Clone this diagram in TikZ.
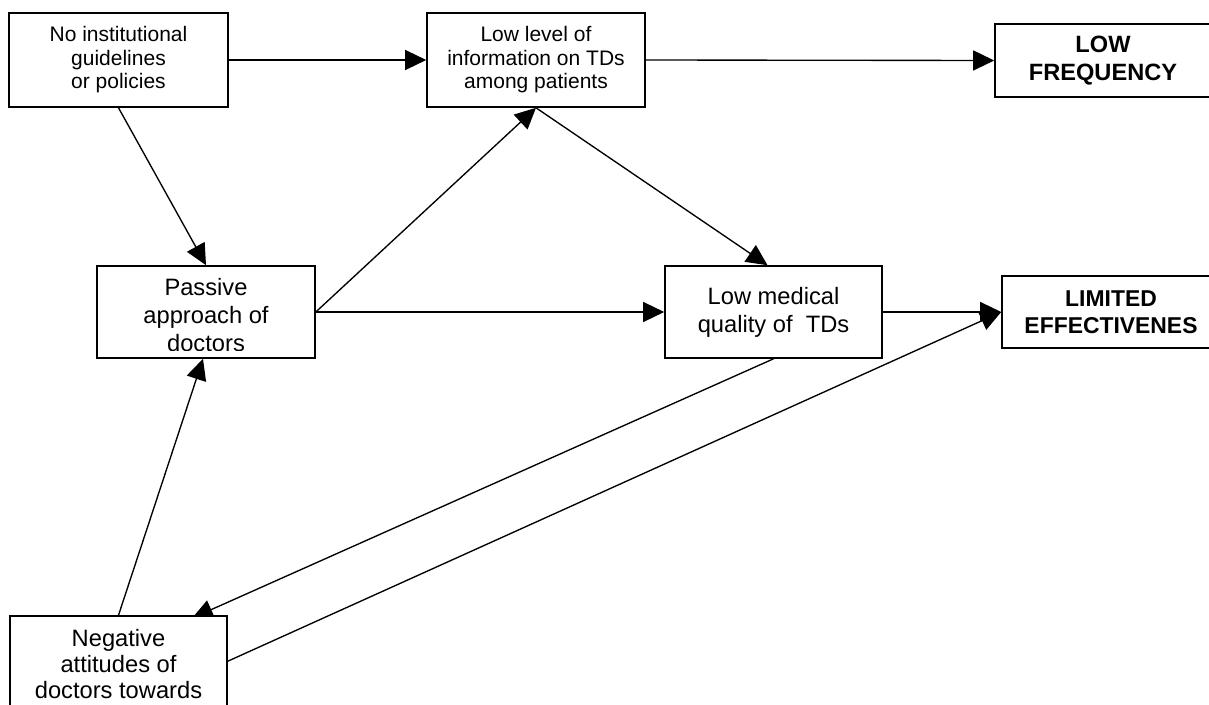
\documentclass[tikz,border=0pt]{standalone}
\usepackage{fontspec}
\setmainfont{Liberation Sans}
\usetikzlibrary{arrows.meta}
\pgfdeclarelayer{bg}
\pgfsetlayers{bg,main}
\begin{document}
\begin{tikzpicture}[x=1pt,y=-1pt,
  box/.style={draw,fill=white,line width=1.6pt,inner sep=0pt,align=center},
  smalltxt/.style={font=\fontsize{21pt}{23.5pt}\selectfont},
  bigtxt/.style={font=\fontsize{23.7pt}{28pt}\selectfont},
  negtxt/.style={font=\fontsize{23.7pt}{26pt}\selectfont},
  boldtxt/.style={font=\fontsize{23.6pt}{28pt}\selectfont\bfseries},
  boldtxtb/.style={font=\fontsize{22.9pt}{27pt}\selectfont\bfseries},
  conn/.style={line width=1.35pt,-{Triangle[length=21pt,width=20pt]}}]
\useasboundingbox (0,0) rectangle (1209,704);

\node[box,smalltxt,minimum width=219pt,minimum height=94pt] (nig) at (118.5,60)
  {No institutional\\guidelines\\or policies};
\node[box,smalltxt,minimum width=218pt,minimum height=94pt] (low) at (536,60)
  {Low level of\\information on TDs\\among patients};
\node[box,boldtxt,minimum width=216pt,minimum height=73pt] (lf) at (1103,60.5)
  {LOW\\FREQUENCY};

\node[box,minimum width=218pt,minimum height=92pt] (pas) at (206,312) {};
\begin{scope}
  \clip (97,266) rectangle (315,350);
  \node[bigtxt,align=center] (pastext) at (206,315.5) {Passive\\approach of\\doctors};
\end{scope}

\node[box,bigtxt,minimum width=217pt,minimum height=92pt] (lmq) at (773.5,312)
  {Low medical\\quality of\ \ TDs};
\node[box,boldtxtb,minimum width=218pt,minimum height=72pt] (lim) at (1111,312)
  {LIMITED\\EFFECTIVENES};
\node[box,negtxt,minimum width=217pt,minimum height=97pt] (neg) at (118.5,664.5)
  {Negative\\attitudes of\\doctors towards};

\begin{pgfonlayer}{bg}
  \draw[conn] (nig.east) -- (low.west);
  \draw[conn] (low.east) -- (lf.west);
  \draw[conn] (nig.south) -- (pas.north);
  \draw[conn] (pas.east) -- (lmq.west);
  \draw[conn] (pas.east) -- (low.south);
  \draw[conn] (low.south) -- ([xshift=-6pt]lmq.north);
  \draw[conn] (lmq.east) -- (lim.west);
  \draw[conn] (lmq.south) -- ([xshift=73.5pt,yshift=-3pt]neg.north);
  \draw[conn] ([yshift=-46pt]neg.north east) -- (lim.west);
  \draw[conn] (neg.north) -- ([xshift=-3pt]pas.south);
\end{pgfonlayer}
\end{tikzpicture}
\end{document}
